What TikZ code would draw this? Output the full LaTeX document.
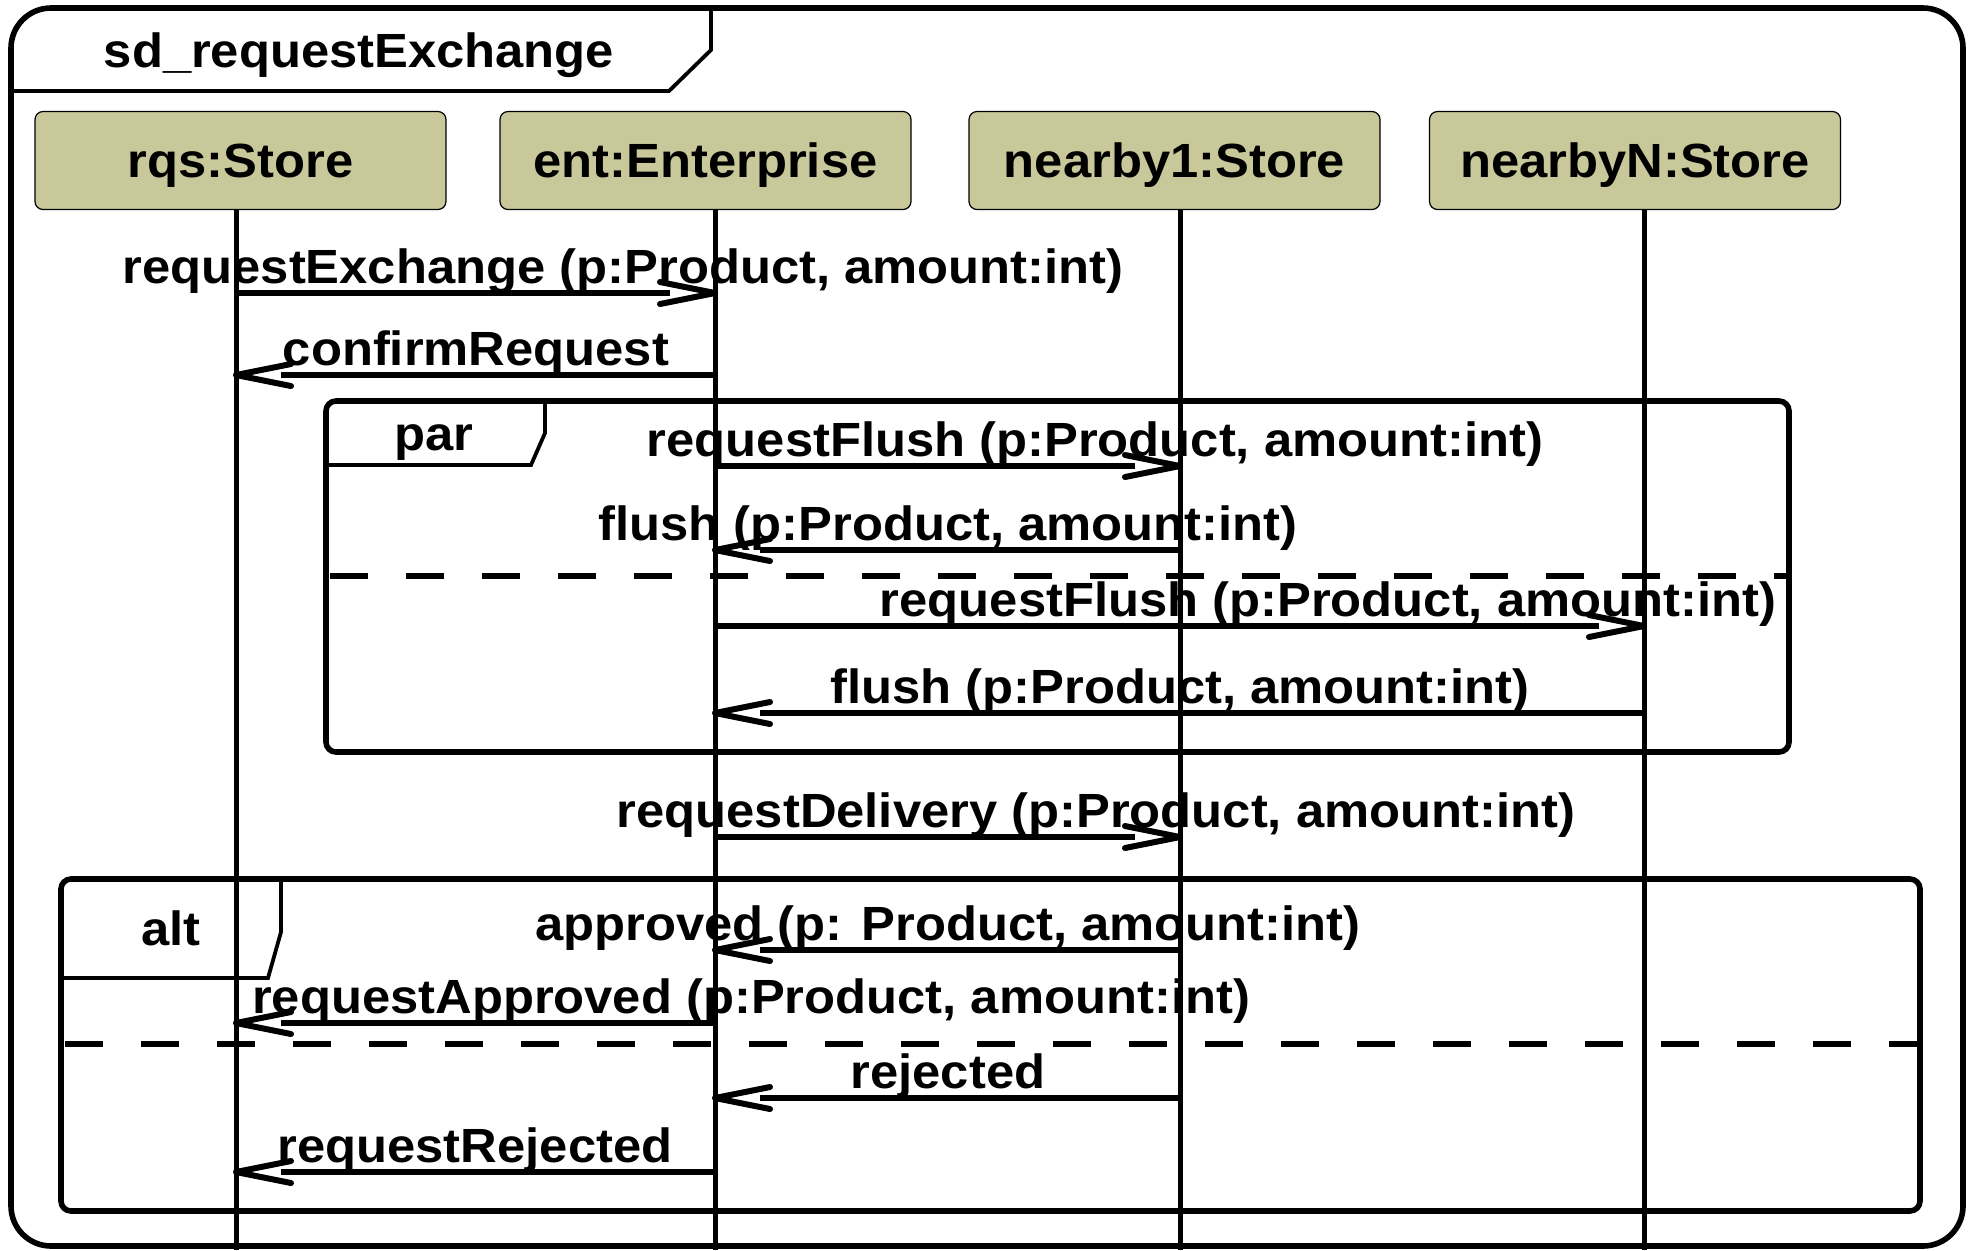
\documentclass[tikz,border=0pt]{standalone}
\usepackage{fontspec}
\setmainfont{Liberation Sans}[FakeStretch=1.057]
\usetikzlibrary{calc}
\definecolor{headfill}{RGB}{200,200,155}
\newcommand\msgarrow[4]{%
  \draw[msgline] (#1 |- 0,#3) -- ($(#2 |- 0,#3)+(-45*#4,0)$);
  \draw[msgline, line cap=round] ($(#2 |- 0,#3)+(-55*#4,-11)$) -- (#2 |- 0,#3) -- ($(#2 |- 0,#3)+(-55*#4,11)$);
}
\begin{document}
\begin{tikzpicture}[x=0.5pt,y=-0.5pt,
  every node/.style={font=\fontsize{24pt}{28pt}\selectfont\bfseries, inner sep=0pt},
  headbox/.style={draw=black, line width=0.6pt, fill=headfill, rounded corners=4pt,
    minimum width=205.5pt, minimum height=49pt, text height=17.2pt, text depth=0pt},
  fragbox/.style={draw, line width=2.8pt, rounded corners=5pt},
  tabline/.style={line width=1.9pt, line join=miter},
  lifeline/.style={line width=2.5pt},
  msgline/.style={line width=3pt, line join=round},
  lbl/.style={anchor=base},
  divider/.style={line width=3.2pt, dash pattern=on 19pt off 19pt, dash phase=-2pt},
]
\useasboundingbox (0,0) rectangle (1971,1250);
\fill[white] (0,0) rectangle (1971,1250);

% outer frame
\draw[line width=2.8pt, rounded corners=20pt] (11,8) rectangle (1963,1246);
\draw[tabline] (11,91) -- (669,91) -- (711,50) -- (711,8);
\node[lbl] (title) at (359,67) {sd\_requestExchange};

% heads
\node[headbox] (rqs) at (240.5,160.5) {rqs:Store};
\node[headbox] (ent) at (705.5,160.5) {ent:Enterprise};
\node[headbox] (nb1) at (1174.5,160.5) {nearby1:Store};
\node[headbox] (nbN) at (1635,160.5) {nearbyN:Store};
\coordinate (lA) at ([xshift=-2.25pt]rqs.south);
\coordinate (lB) at ([xshift=4.75pt]ent.south);
\coordinate (lC) at ([xshift=2.75pt]nb1.south);
\coordinate (lD) at ([xshift=4.5pt]nbN.south);

% par fragment
\draw[fragbox] (326,401) rectangle (1789,752);
\draw[tabline] (326,465) -- (531,465) -- (545,433) -- (545,401);
\node[lbl] (par) at (434,450) {par};
\draw[divider] (326,576) -- (1789,576);

% alt fragment
\draw[fragbox] (61,879) rectangle (1920,1211);
\draw[tabline] (61,978) -- (268,978) -- (281,932) -- (281,879);
\node[lbl] (alt) at (171,945) {alt};
\draw[divider] (61,1044) -- (1920,1044);

% lifelines
\foreach \l in {lA,lB,lC,lD} \draw[lifeline] (\l) -- (\l |- 0,1250);

% messages
\msgarrow{lA}{lB}{293}{1}
\node[lbl] (m1) at (623,283) {requestExchange (p:Product, amount:int)};
\msgarrow{lB}{lA}{375}{-1}
\node[lbl] (m2) at (476,365) {confirmRequest};
\msgarrow{lB}{lC}{466}{1}
\node[lbl] (m3) at (1095,456) {requestFlush (p:Product, amount:int)};
\msgarrow{lC}{lB}{550}{-1}
\node[lbl] (m4) at (948,540) {flush (p:Product, amount:int)};
\msgarrow{lB}{lD}{626}{1}
\node[lbl] (m5) at (1328,616) {requestFlush (p:Product, amount:int)};
\msgarrow{lD}{lB}{713}{-1}
\node[lbl] (m6) at (1180,703) {flush (p:Product, amount:int)};
\msgarrow{lB}{lC}{837}{1}
\node[lbl] (m7) at (1096,827) {requestDelivery (p:Product, amount:int)};
\msgarrow{lC}{lB}{950}{-1}
\node[lbl] (m8) at (948,940) {approved (p: Product, amount:int)};
\msgarrow{lB}{lA}{1023}{-1}
\node[lbl] (m9) at (751,1013) {requestApproved (p:Product, amount:int)};
\msgarrow{lC}{lB}{1098}{-1}
\node[lbl] (m10) at (948,1088) {rejected};
\msgarrow{lB}{lA}{1172}{-1}
\node[lbl] (m11) at (475,1162) {requestRejected};
\end{tikzpicture}
\end{document}
